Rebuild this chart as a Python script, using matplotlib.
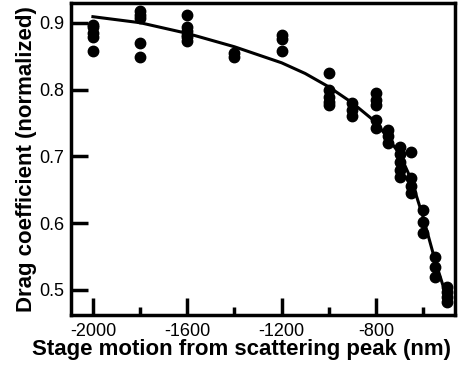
import matplotlib.pyplot as plt
from matplotlib.ticker import MultipleLocator

plt.rcParams["font.family"] = ["Liberation Sans", "DejaVu Sans"]

# measured drag coefficients, grouped by stage position (nm)
stage_nm = (
    [-2000] * 5 + [-1800] * 5 + [-1600] * 6 + [-1400] * 2 + [-1200] * 3
    + [-1000] * 5 + [-900] * 3 + [-800] * 5 + [-750] * 3 + [-700] * 5
    + [-650] * 4 + [-600] * 3 + [-550] * 3 + [-500] * 4
)
drag = [
    0.897, 0.893, 0.885, 0.879, 0.857,
    0.917, 0.912, 0.907, 0.870, 0.849,
    0.912, 0.894, 0.887, 0.882, 0.878, 0.872,
    0.855, 0.848,
    0.882, 0.875, 0.857,
    0.825, 0.800, 0.789, 0.782, 0.777,
    0.780, 0.770, 0.760,
    0.795, 0.785, 0.777, 0.755, 0.742,
    0.740, 0.730, 0.720,
    0.714, 0.703, 0.692, 0.680, 0.669,
    0.707, 0.667, 0.656, 0.645,
    0.620, 0.602, 0.585,
    0.549, 0.534, 0.519,
    0.504, 0.497, 0.489, 0.482,
]

# fitted curve
fit_x = [-2000, -1800, -1600, -1400, -1300, -1200, -1100, -1000, -900, -800,
         -700, -650, -600, -550, -500]
fit_y = [0.909, 0.900, 0.884, 0.864, 0.852, 0.840, 0.824, 0.804, 0.780, 0.751,
         0.704, 0.665, 0.609, 0.545, 0.489]

fig = plt.figure(figsize=(4.64, 3.71), dpi=100)
ax = fig.add_axes([0.154, 0.151, 0.827, 0.840])

ax.plot(fit_x, fit_y, color="black", lw=2.2, zorder=2)
ax.plot(stage_nm, drag, "o", color="black", ms=7.5, zorder=3)

ax.set_xlim(-2091, -464)
ax.set_ylim(0.4625, 0.929)
ax.set_xticks([-2000, -1600, -1200, -800])
ax.set_xticklabels(["-2000", "-1600", "-1200", "-800"])
ax.xaxis.set_minor_locator(MultipleLocator(200))
ax.set_yticks([0.5, 0.6, 0.7, 0.8, 0.9])
ax.set_yticklabels(["0.5", "0.6", "0.7", "0.8", "0.9"])

ax.tick_params(which="major", direction="in", length=12, width=2.5, labelsize=13)
ax.tick_params(axis="x", which="major", pad=6)
ax.tick_params(axis="y", which="major", pad=5)
ax.tick_params(which="minor", direction="in", length=6, width=2.5)
ax.tick_params(axis="y", which="minor", left=False)
for s in ax.spines.values():
    s.set_linewidth(2.5)

ax.set_xlabel("Stage motion from scattering peak (nm)", fontsize=16, fontweight="bold")
ax.xaxis.set_label_coords(0.444, -0.077)
ax.set_ylabel("Drag coefficient (normalized)", fontsize=16, fontweight="bold", labelpad=2)

fig.savefig("out.png", dpi=100)
